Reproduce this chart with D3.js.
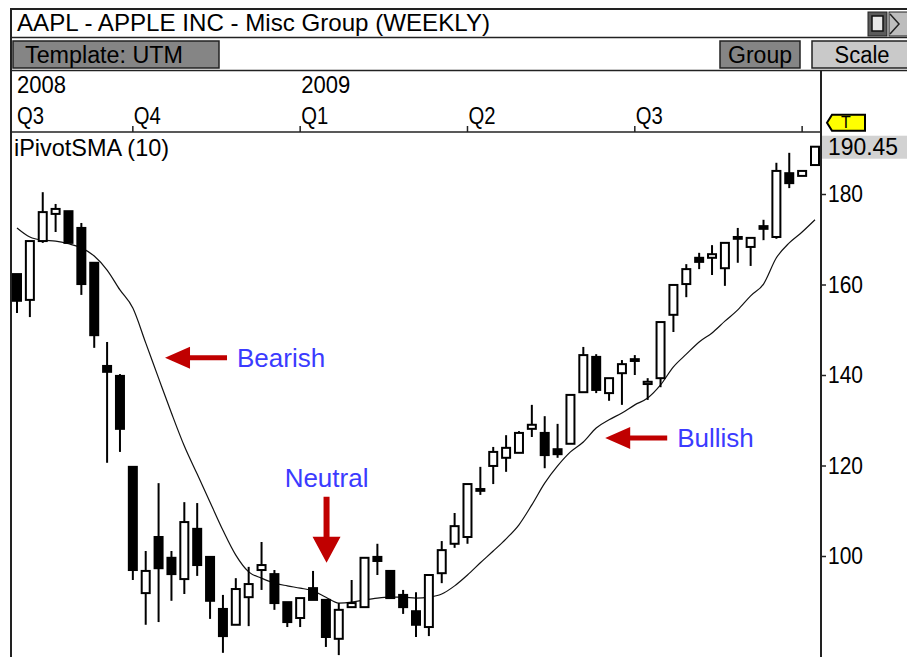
<!DOCTYPE html>
<html><head><meta charset="utf-8">
<script src="https://cdn.jsdelivr.net/npm/d3@7"></script>
<style>
html,body{margin:0;padding:0;background:#fff;overflow:hidden}
svg{display:block}
text{font-family:"Liberation Sans",Arial,sans-serif;fill:#000}
</style>
</head><body>
<svg id="c" width="907" height="657"></svg>
<script>
// ---- data (AAPL weekly) ----
const openV  = [162.3,156.6,169.6,175.6,176.2,172.5,164.8,142.0,139.8,119.7,91.8,104.2,99.6,94.9,106.0,99.8,88.3,84.8,90.9,96.9,96.0,89.8,86.3,92.9,90.3,81.7,88.7,88.7,99.8,96.7,91.4,87.8,84.3,96.2,102.7,104.2,114.4,119.9,121.7,122.8,128.1,127.2,123.6,124.8,136.2,144.0,136.0,140.4,143.1,138.0,139.3,153.3,160.1,165.9,165.9,163.6,170.1,168.3,172.9,170.5,184.6,184.0,186.4];
const highV  = [162.3,169.6,180.4,177.8,176.2,173.6,164.8,147.3,140.2,119.7,101.1,116.1,101.1,111.9,111.7,99.8,91.4,95.1,97.6,103.1,96.9,89.8,90.7,96.7,90.3,89.6,94.7,99.6,102.7,96.7,92.5,92.0,95.8,103.3,109.5,115.9,119.7,124.1,126.7,127.6,133.4,130.9,129.2,135.6,146.2,144.6,139.3,143.3,144.4,139.3,151.7,159.9,164.5,167.0,168.7,169.2,172.5,170.3,174.3,186.9,189.1,185.1,190.45];
const lowV   = [153.7,152.8,169.2,171.6,169.2,157.7,146.0,120.6,123.0,94.7,84.8,85.4,90.1,91.6,95.6,86.1,78.6,84.8,84.5,92.5,88.1,84.3,84.3,90.3,79.9,78.1,88.7,88.7,95.8,90.7,87.2,82.1,82.3,94.0,101.8,102.7,113.5,115.9,118.6,122.8,126.3,119.4,121.7,124.8,136.2,136.0,134.3,133.4,140.0,134.5,137.3,149.5,157.2,163.4,162.1,159.7,164.8,164.1,169.8,170.1,181.3,184.0,186.4];
const closeV = [156.4,169.6,176.0,176.7,169.2,160.1,148.8,140.7,128.1,96.9,96.7,97.3,96.0,107.5,98.0,90.1,82.3,92.7,93.8,98.0,89.6,85.4,90.7,90.3,82.1,88.1,89.6,99.6,98.9,90.7,88.7,84.8,95.8,101.3,106.6,115.9,114.8,123.0,123.9,127.2,129.0,122.3,122.5,135.6,144.4,136.7,139.3,142.4,143.5,138.5,151.7,159.9,163.4,165.0,166.7,169.2,170.5,170.3,172.3,185.1,182.4,185.1,190.45];
const smaV   = [172.5,170.5,169.8,169.6,169.0,168.1,166.3,163.2,158.8,154.8,147.1,139.3,131.6,124.3,118.1,111.9,105.7,100.2,96.5,95.1,94.0,93.4,92.9,92.3,90.9,89.6,89.8,90.3,90.7,90.9,90.9,90.7,90.9,91.6,93.4,95.8,98.5,101.1,103.8,106.9,111.3,116.1,119.9,123.0,125.2,128.3,130.1,131.6,133.4,134.9,137.8,141.8,144.6,147.3,149.3,151.9,154.4,157.5,160.1,165.9,169.2,171.6,174.3];

const quarterLabels = ["Q3","Q4","Q1","Q2","Q3","Q4"];
const quarterIdx    = [-4, 9, 22, 35, 48, 61];
const yearLabels    = ["2008","2009"];
const yearIdx       = [-4, 22];
const priceTicks    = [100,120,140,160,180];
const lastPrice     = 190.45;

const annLabels = ["Bearish","Neutral","Bullish"];
const annIdx    = [11.5, 24.05, 45.7];
const annValue  = [143.8, 98.5, 126.1];
const annDir    = ["left","down","left"];

// ---- layout ----
const svg = d3.select("#c");
const n = closeV.length;
const PL = 11, PR = 821, PT = 132, PB = 657;
const x = d3.scaleLinear().domain([0, n-1]).range([17, 815]);
const y = d3.scaleLinear().domain([100,180]).range([556,194]);
const FONT = 23;

// frame
svg.append("rect").attr("x",0).attr("y",0).attr("width",907).attr("height",657).attr("fill","#fff");
const frame = svg.append("g").attr("stroke","#222").attr("fill","none");
frame.append("line").attr("x1",10).attr("x2",907).attr("y1",9).attr("y2",9).attr("stroke-width",2);
frame.append("line").attr("x1",11).attr("x2",11).attr("y1",8).attr("y2",657).attr("stroke-width",2);
frame.append("line").attr("x1",10).attr("x2",907).attr("y1",37.5).attr("y2",37.5).attr("stroke-width",1.5);
frame.append("line").attr("x1",10).attr("x2",907).attr("y1",70.5).attr("y2",70.5).attr("stroke-width",1.5);
frame.append("line").attr("x1",10).attr("x2",PR).attr("y1",PT).attr("y2",PT).attr("stroke-width",1.5);
frame.append("line").attr("x1",PR).attr("x2",PR).attr("y1",70).attr("y2",657).attr("stroke-width",2);

// title
svg.append("text").attr("x",17).attr("y",31).attr("font-size",24)
  .attr("textLength",473).attr("lengthAdjust","spacingAndGlyphs")
  .text("AAPL - APPLE INC - Misc Group (WEEKLY)");

// window icons
svg.append("rect").attr("x",868).attr("y",12).attr("width",19).attr("height",24).attr("fill","#5a5a5a").attr("stroke","#222");
svg.append("rect").attr("x",872).attr("y",16).attr("width",11).attr("height",15).attr("fill","#e8e8e8").attr("stroke","#111").attr("stroke-width",1.5);
svg.append("rect").attr("x",889).attr("y",12).attr("width",20).attr("height",24).attr("fill","#bdbdbd").attr("stroke","#222");
svg.append("path").attr("d","M890,14 L899,24 L890,34").attr("fill","none").attr("stroke","#222").attr("stroke-width",1.5);

// toolbar buttons
function button(x0,w,fill,label,tl){
  svg.append("rect").attr("x",x0).attr("y",41).attr("width",w).attr("height",27)
    .attr("fill",fill).attr("stroke","#222").attr("stroke-width",1.5);
  svg.append("text").attr("x",x0+ (w-tl)/2).attr("y",63).attr("font-size",23)
    .attr("textLength",tl).attr("lengthAdjust","spacingAndGlyphs").text(label);
}
svg.append("rect").attr("x",13).attr("y",41).attr("width",206).attr("height",27)
  .attr("fill","#858585").attr("stroke","#222").attr("stroke-width",1.5);
svg.append("text").attr("x",25).attr("y",63).attr("font-size",23)
  .attr("textLength",158).attr("lengthAdjust","spacingAndGlyphs").text("Template: UTM");
button(720,80,"#858585","Group",64);
button(812,100,"#c9c9c9","Scale",55);

// time axis labels
yearLabels.forEach((t,k)=>{
  svg.append("text").attr("x",Math.max(x(yearIdx[k])+1,17)).attr("y",93).attr("font-size",24)
    .attr("textLength",49).attr("lengthAdjust","spacingAndGlyphs").text(t);
});
quarterLabels.forEach((t,k)=>{
  const xx = x(quarterIdx[k]);
  if (quarterIdx[k] >= 0) {
    svg.append("line").attr("x1",xx).attr("x2",xx).attr("y1",126).attr("y2",PT).attr("stroke","#222").attr("stroke-width",1.5);
  }
  const lx = Math.max(xx+1,17);
  if (lx + 30 < PR) {
    svg.append("text").attr("x",lx).attr("y",124).attr("font-size",24)
      .attr("textLength",27).attr("lengthAdjust","spacingAndGlyphs").text(t);
  }
});

// indicator label
svg.append("text").attr("x",14).attr("y",156).attr("font-size",24)
  .attr("textLength",155).attr("lengthAdjust","spacingAndGlyphs").text("iPivotSMA (10)");

// plot clip
svg.append("clipPath").attr("id","pc").append("rect").attr("x",PL+1).attr("y",PT+1).attr("width",PR-PL-2).attr("height",PB-PT);
const plot = svg.append("g").attr("clip-path","url(#pc)");

// SMA line
const line = d3.line().x((d,i)=>x(i)).y(d=>y(d)).curve(d3.curveMonotoneX);
plot.append("path").datum(smaV).attr("d",line).attr("fill","none").attr("stroke","#111").attr("stroke-width",1.2);

// candles
const idx = d3.range(n);
const cg = plot.append("g").selectAll("g").data(idx).join("g");
cg.append("line").attr("x1",i=>x(i)).attr("x2",i=>x(i))
  .attr("y1",i=>y(highV[i])).attr("y2",i=>y(lowV[i]))
  .attr("stroke","#000").attr("stroke-width",2);
cg.append("rect")
  .attr("x",i=>x(i)-4).attr("width",8)
  .attr("y",i=>y(Math.max(openV[i],closeV[i])))
  .attr("height",i=>Math.max(1.5,Math.abs(y(openV[i])-y(closeV[i]))))
  .attr("fill",i=>closeV[i]>=openV[i]?"#fff":"#000")
  .attr("stroke","#000").attr("stroke-width",2);

// right price axis
const ax = svg.append("g").attr("transform",`translate(${PR},0)`)
  .call(d3.axisRight(y).tickValues(priceTicks).tickSize(5).tickPadding(2).tickFormat(d3.format("d")));
ax.select(".domain").remove();
ax.selectAll(".tick line").attr("stroke","#222").attr("stroke-width",1.5);
ax.selectAll(".tick text").attr("font-size",24).attr("font-family",'"Liberation Sans",Arial,sans-serif')
  .attr("fill","#000").attr("textLength",35).attr("lengthAdjust","spacingAndGlyphs");

// last price label + tag
const ly = y(lastPrice);
svg.append("rect").attr("x",PR+1).attr("y",ly-11).attr("width",907-PR).attr("height",23).attr("fill","#d2d2d2");
svg.append("text").attr("x",828).attr("y",ly).attr("dy","0.36em").attr("font-size",24)
  .attr("textLength",70).attr("lengthAdjust","spacingAndGlyphs").text(d3.format(".2f")(lastPrice));
svg.append("path").attr("d",`M827,${ly-24} L832,${ly-32} L865,${ly-32} L865,${ly-16} L832,${ly-16} Z`)
  .attr("fill","#ffff00").attr("stroke","#000").attr("stroke-width",2);
svg.append("text").attr("x",846).attr("y",ly-24).attr("dy","0.36em").attr("text-anchor","middle")
  .attr("font-size",16).text("T");

// annotations
const RED = "#c00000", BLUE = "#3b3bff";
annLabels.forEach((t,k)=>{
  const tx = x(annIdx[k]), ty = y(annValue[k]);
  if (annDir[k] === "left") {
    svg.append("path").attr("d",
      `M${tx},${ty} L${tx+25},${ty-11} L${tx+25},${ty-2.5} L${tx+62},${ty-2.5} L${tx+62},${ty+2.5} L${tx+25},${ty+2.5} L${tx+25},${ty+11} Z`)
      .attr("fill",RED);
    svg.append("text").attr("x",tx+72).attr("y",ty).attr("dy","0.36em").attr("font-size",26)
      .style("fill",BLUE).text(t);
  } else {
    svg.append("path").attr("d",
      `M${tx},${ty} L${tx-14},${ty-26} L${tx-3},${ty-26} L${tx-3},${ty-66} L${tx+3},${ty-66} L${tx+3},${ty-26} L${tx+14},${ty-26} Z`)
      .attr("fill",RED);
    svg.append("text").attr("x",tx).attr("y",ty-76).attr("text-anchor","middle").attr("font-size",26)
      .style("fill",BLUE).text(t);
  }
});
</script>
</body></html>
